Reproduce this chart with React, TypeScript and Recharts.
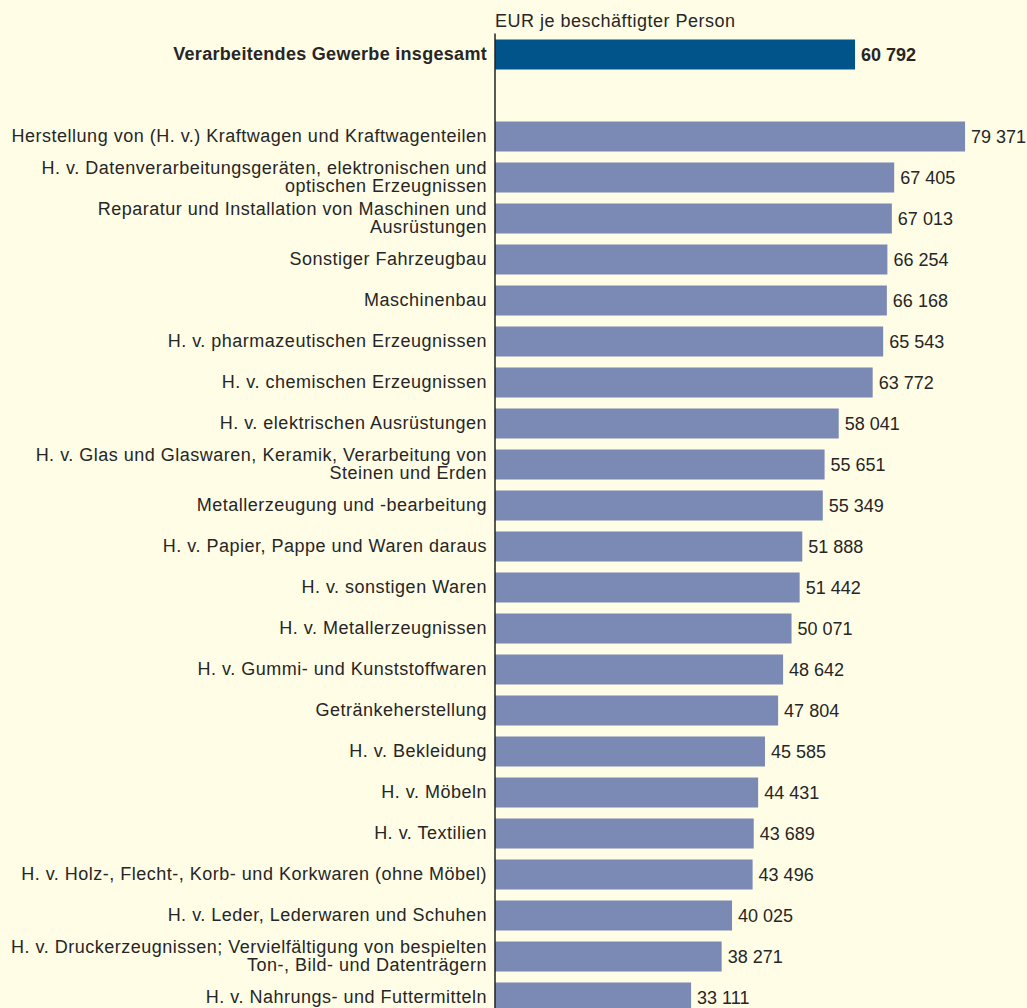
import { Bar, BarChart, Cell, LabelList, XAxis, YAxis } from "recharts";

const TOTAL = "Verarbeitendes Gewerbe insgesamt";

const categories = [
  TOTAL,
  "",
  "Herstellung von (H. v.) Kraftwagen und Kraftwagenteilen",
  "H. v. Datenverarbeitungsgeräten, elektronischen und\noptischen Erzeugnissen",
  "Reparatur und Installation von Maschinen und\nAusrüstungen",
  "Sonstiger Fahrzeugbau",
  "Maschinenbau",
  "H. v. pharmazeutischen Erzeugnissen",
  "H. v. chemischen Erzeugnissen",
  "H. v. elektrischen Ausrüstungen",
  "H. v. Glas und Glaswaren, Keramik, Verarbeitung von\nSteinen und Erden",
  "Metallerzeugung und -bearbeitung",
  "H. v. Papier, Pappe und Waren daraus",
  "H. v. sonstigen Waren",
  "H. v. Metallerzeugnissen",
  "H. v. Gummi- und Kunststoffwaren",
  "Getränkeherstellung",
  "H. v. Bekleidung",
  "H. v. Möbeln",
  "H. v. Textilien",
  "H. v. Holz-, Flecht-, Korb- und Korkwaren (ohne Möbel)",
  "H. v. Leder, Lederwaren und Schuhen",
  "H. v. Druckerzeugnissen; Vervielfältigung von bespielten\nTon-, Bild- und Datenträgern",
  "H. v. Nahrungs- und Futtermitteln",
];

const values: (number | null)[] = [
  60792, null, 79371, 67405, 67013, 66254, 66168, 65543, 63772, 58041, 55651,
  55349, 51888, 51442, 50071, 48642, 47804, 45585, 44431, 43689, 43496, 40025,
  38271, 33111,
];

const data = categories.map((name, i) => ({ name, value: values[i] }));

const FONT = "'Liberation Sans', Arial, Helvetica, sans-serif";
const TEXT = "#262626";

const fmt = (v: number) => String(v).replace(/\B(?=(\d{3})+(?!\d))/g, " ");

function CategoryTick(props: any) {
  const { x, y, payload } = props;
  const name = String(payload.value);
  if (!name) return null;
  const lines = name.split("\n");
  const bold = name === TOTAL;
  const start = -((lines.length - 1) * 18) / 2;
  return (
    <text
      x={x}
      y={y}
      textAnchor="end"
      fill={TEXT}
      fontFamily={FONT}
      fontSize={18}
      fontWeight={bold ? 700 : 400}
      letterSpacing={bold ? 0.3 : 0.5}
    >
      {lines.map((l, i) => (
        <tspan key={i} x={x} y={y + start + i * 18} dy="0.36em">
          {l}
        </tspan>
      ))}
    </text>
  );
}

function ValueLabel(props: any) {
  const { x, y, width, height, value, index } = props;
  if (value == null) return null;
  return (
    <text
      x={x + width + 6}
      y={y + height / 2}
      dy="0.36em"
      fill={TEXT}
      fontFamily={FONT}
      fontSize={18}
      fontWeight={index === 0 ? 700 : 400}
    >
      {fmt(value)}
    </text>
  );
}

export default function App() {
  return (
    <div
      style={{
        position: "absolute",
        left: 0,
        top: 0,
        width: 1027,
        height: 1008,
        overflow: "hidden",
        background: "#fffde6",
      }}
    >
      <div
        style={{
          position: "absolute",
          left: 495,
          top: 11,
          fontFamily: FONT,
          fontSize: 18,
          letterSpacing: 0.5,
          color: TEXT,
        }}
      >
        EUR je beschäftigter Person
      </div>
      <BarChart
        width={1027}
        height={1030}
        data={data}
        layout="vertical"
        margin={{ top: 33.5, right: 28.6, bottom: 12.5, left: 0 }}
        barSize={30}
      >
        <XAxis type="number" domain={[0, 85000]} hide />
        <YAxis
          type="category"
          dataKey="name"
          width={495}
          interval={0}
          tickLine={false}
          tickSize={0}
          tickMargin={8}
          axisLine={{ stroke: "#222", strokeWidth: 1.5 }}
          tick={<CategoryTick />}
        />
        <Bar dataKey="value" isAnimationActive={false}>
          {data.map((d, i) => (
            <Cell key={i} fill={i === 0 ? "#00548a" : "#7b8ab4"} />
          ))}
          <LabelList dataKey="value" content={<ValueLabel />} />
        </Bar>
      </BarChart>
    </div>
  );
}
